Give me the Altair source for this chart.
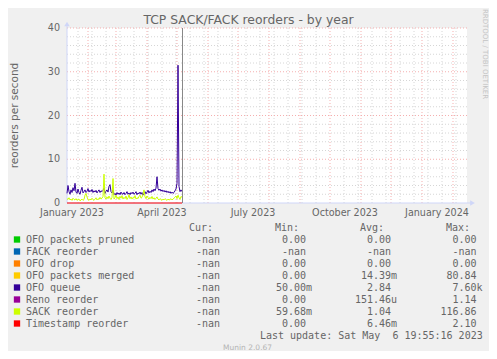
import altair as alt
import pandas as pd

# ---------------- data ----------------
START = "2023-01-11"          # first daily sample
ORIGIN = "2023-01-01"         # day 0 of the x scale

ofo_queue = [2.2, 4.0, 2.6, 2.0, 3.0, 2.4, 3.5, 2.8, 4.5, 2.5,
             2.2, 3.2, 2.4, 2.0, 2.9, 3.6, 2.3, 2.6, 3.0, 2.4,
             2.7, 3.3, 2.5, 2.9, 2.6, 3.1, 2.4, 2.8, 2.5, 2.9,
             2.3, 2.7, 3.0, 2.4, 2.8, 2.6, 2.9, 3.4, 2.2, 2.7,
             3.0, 2.5, 3.8, 4.2, 2.6, 2.3, 3.0, 1.9, 2.2, 1.8,
             2.4, 2.0, 2.3, 1.9, 2.5, 2.1, 2.0, 2.4, 1.9, 2.2,
             2.6, 2.0, 2.3, 1.9, 2.4, 2.1, 2.5, 2.0, 2.2, 2.6,
             1.9, 2.3, 2.1, 2.5, 2.0, 2.4, 1.8, 2.2, 2.6, 2.1,
             2.5, 2.9, 2.3, 2.7, 2.4, 3.0, 2.6, 3.2, 2.8, 3.4,
             6.0, 3.3, 2.9, 3.2, 2.7, 3.0, 2.6, 2.9, 2.5, 2.8,
             2.4, 2.7, 2.3, 2.6, 2.2, 2.5, 2.2, 2.4, 2.8, 3.2,
             4.5, 31.5, 3.8, 2.6, 3.0, 2.6]

sack_reorder = [1.0, 0.8, 1.2, 0.7, 0.9, 0.6, 1.1, 0.8, 0.7, 1.0,
                0.6, 0.8, 0.9, 0.5, 0.7, 0.9, 0.6, 0.8, 1.8, 2.2,
                1.4, 0.8, 0.6, 0.9, 0.7, 1.1, 0.8, 0.6, 0.9, 1.2,
                0.7, 1.0, 0.8, 1.3, 0.9, 1.1, 1.5, 6.6, 1.2, 0.9,
                1.4, 1.0, 1.6, 1.1, 0.8, 1.3, 5.6, 0.9, 1.2, 1.8,
                1.0, 1.4, 0.8, 1.5, 1.1, 1.7, 0.9, 1.3, 1.0, 1.6,
                0.8, 1.2, 1.9, 1.0, 1.4, 0.9, 1.3, 1.1, 1.7, 0.9,
                1.2, 1.0, 1.5, 1.8, 1.1, 1.3, 2.0, 3.0, 1.4, 1.0,
                1.6, 1.2, 0.9, 1.3, 1.0, 1.5, 0.9, 1.2, 0.8, 1.1,
                1.4, 0.9, 0.7, 1.0, 0.8, 0.6, 0.9, 0.7, 1.0, 0.8,
                0.6, 0.9, 0.7, 0.8, 1.0, 0.7, 0.9, 1.1, 1.3, 1.6,
                1.0, 1.8, 1.2, 0.8, 1.5, 1.3]

timestamp_dates = ["2023-01-11", "2023-05-06"]
timestamp_vals = [0.0, 0.0]

legend_names = ["OFO packets pruned", "FACK reorder", "OFO drop", "OFO packets merged",
                "OFO queue", "Reno reorder", "SACK reorder", "Timestamp reorder"]
legend_colors = ["#00CC00", "#0066B3", "#FF8000", "#FFCC00",
                 "#330099", "#990099", "#CCFF00", "#FF0000"]
cur_vals = ["-nan", "-nan", "-nan", "-nan", "-nan", "-nan", "-nan", "-nan"]
min_vals = ["0.00", "-nan", "0.00", "0.00", "50.00m", "0.00", "59.68m", "0.00"]
avg_vals = ["0.00", "-nan", "0.00", "14.39m", "2.84", "151.46u", "1.04", "6.46m"]
max_vals = ["0.00", "-nan", "0.00", "80.84", "7.60k", "1.14", "116.86", "2.10"]

y_ticks = [0, 10, 20, 30, 40]
x_labels = ["January 2023", "April 2023", "July 2023", "October 2023", "January 2024"]
x_label_dates = ["2023-01-01", "2023-04-01", "2023-07-01", "2023-10-01", "2024-01-01"]

TITLE = "TCP SACK/FACK reorders - by year"
Y_TITLE = "reorders per second"
LAST_UPDATE = "Last update: Sat May \u00a06 19:55:16 2023"
FOOT = "Munin 2.0.67"
WATERMARK = "RRDTOOL / TOBI OETIKER"

# ---------------- helpers ----------------
origin = pd.Timestamp(ORIGIN)
def dayno(ts):
    return (pd.Timestamp(ts) - origin) / pd.Timedelta(days=1)

start_day = dayno(START)
days = [start_day + i for i in range(len(ofo_queue))]
series = pd.DataFrame({"day": days, "ofo": ofo_queue, "sack": sack_reorder})
ts_df = pd.DataFrame({"day": [dayno(d) for d in timestamp_dates], "v": timestamp_vals})

W, H = 400, 175
xs = alt.Scale(domain=[10, 410], nice=False, zero=False)
ys = alt.Scale(domain=[0, 40], nice=False, zero=False)
FONT = "DejaVu Sans"
MONO = "DejaVu Sans Mono"
TXT = "#666666"
AXIS = "#CFD6F8"
MINOR = "#d6d6d6"
MAJOR = "#F5AFAF"

# grid positions
minor_h = [v for v in range(2, 40, 2) if v % 10]
major_h = [10, 20, 30, 40]
month_days = [dayno(d) for d in pd.date_range("2023-02-01", "2024-02-01", freq="MS")]
minor_v = [d for d in range(int(dayno("2023-01-22")), 410, 14) if d not in month_days]

X = lambda f: alt.X(f, scale=xs, axis=None)
Y = lambda f: alt.Y(f, scale=ys, axis=None)

layers = []
layers.append(alt.Chart(pd.DataFrame({"v": minor_h})).mark_rule(
    color=MINOR, strokeDash=[1, 2], strokeWidth=1).encode(
    y=Y("v:Q"), x=alt.value(0), x2=alt.value(W)))
layers.append(alt.Chart(pd.DataFrame({"d": minor_v})).mark_rule(
    color=MINOR, strokeDash=[1, 2], strokeWidth=1).encode(
    x=X("d:Q"), y=alt.value(0), y2=alt.value(H)))
layers.append(alt.Chart(pd.DataFrame({"v": major_h})).mark_rule(
    color=MAJOR, strokeDash=[1, 2], strokeWidth=1).encode(
    y=Y("v:Q"), x=alt.value(0), x2=alt.value(W)))
layers.append(alt.Chart(pd.DataFrame({"d": month_days})).mark_rule(
    color=MAJOR, strokeDash=[1, 2], strokeWidth=1).encode(
    x=X("d:Q"), y=alt.value(0), y2=alt.value(H)))

# axes lines + arrows
layers.append(alt.Chart(pd.DataFrame({"a": [0]})).mark_rule(color=AXIS, strokeWidth=1).encode(
    x=alt.value(0), y=alt.value(-2), y2=alt.value(H)))
layers.append(alt.Chart(pd.DataFrame({"a": [0]})).mark_rule(color=AXIS, strokeWidth=1).encode(
    x=alt.value(0), x2=alt.value(W + 4), y=alt.value(H)))
layers.append(alt.Chart(pd.DataFrame({"a": [0]})).mark_point(
    shape="triangle-up", filled=True, size=30, opacity=1, color=AXIS).encode(
    x=alt.value(0), y=alt.value(-4)))
layers.append(alt.Chart(pd.DataFrame({"a": [0]})).mark_point(
    shape="triangle-right", filled=True, size=30, opacity=1, color=AXIS).encode(
    x=alt.value(W + 5.5), y=alt.value(H)))

# data lines (Munin drawing order)
layers.append(alt.Chart(series).mark_line(color="#330099", strokeWidth=1).encode(
    x=X("day:Q"), y=Y("ofo:Q")))
layers.append(alt.Chart(series).mark_line(color="#CCFF00", strokeWidth=1).encode(
    x=X("day:Q"), y=Y("sack:Q")))
layers.append(alt.Chart(ts_df).mark_line(color="#FF0000", strokeWidth=1).encode(
    x=X("day:Q"), y=Y("v:Q")))

# last-update vertical rule
layers.append(alt.Chart(pd.DataFrame({"d": [dayno("2023-05-06 12:00")]})).mark_rule(
    color="#888888", strokeWidth=1).encode(x=X("d:Q"), y=alt.value(0), y2=alt.value(H)))

# axis labels
layers.append(alt.Chart(pd.DataFrame({"v": y_ticks})).mark_text(
    align="right", baseline="middle", font=FONT, fontSize=9.6, color=TXT).encode(
    y=Y("v:Q"), x=alt.value(-7), text="v:Q"))
layers.append(alt.Chart(pd.DataFrame({"lab": x_labels,
                                      "d": [dayno(d) + 15 for d in x_label_dates]})).mark_text(
    align="center", baseline="middle", font=FONT, fontSize=9.6, color=TXT).encode(
    x=X("d:Q"), y=alt.value(185), text="lab:N"))

# titles & decorations
def free_text(txt, x, y, **kw):
    return alt.Chart(pd.DataFrame({"t": [txt]})).mark_text(**kw).encode(
        x=alt.value(x), y=alt.value(y), text="t:N")

layers.append(free_text(TITLE, 181.5, -4, align="center", baseline="alphabetic",
                        font=FONT, fontSize=12.4, color=TXT))
layers.append(free_text(Y_TITLE, -52.5, 87.5, align="center", baseline="middle",
                        font=FONT, fontSize=10.5, color=TXT, angle=270))
layers.append(free_text(WATERMARK, 418.3, 26, align="center", baseline="middle",
                        font=FONT, fontSize=7, color="#C4C4C4", angle=90))
layers.append(free_text(FOOT, 156, 320, align="left", baseline="middle",
                        font=FONT, fontSize=7.5, color="#B4B4B4"))
layers.append(free_text(LAST_UPDATE, 415.7, 307.5, align="right", baseline="middle",
                        font=MONO, fontSize=10, color=TXT))

# legend table
def split(s):
    if s and s[-1] in "mukMG":
        return s[:-1], s[-1]
    return s, ""

leg = pd.DataFrame({
    "name": legend_names, "color": legend_colors, "cur": cur_vals,
    "min_n": [split(s)[0] for s in min_vals], "min_s": [split(s)[1] for s in min_vals],
    "avg_n": [split(s)[0] for s in avg_vals], "avg_s": [split(s)[1] for s in avg_vals],
    "max_n": [split(s)[0] for s in max_vals], "max_s": [split(s)[1] for s in max_vals],
    "py": [211.5 + 12 * k for k in range(len(legend_names))],
})
PY = alt.Y("py:Q", scale=None, axis=None)

layers.append(alt.Chart(leg).mark_square(size=40, filled=True, opacity=1).encode(
    x=alt.value(-50), y=PY, color=alt.Color("color:N", scale=None, legend=None)))

def col(field, x, align):
    return alt.Chart(leg).mark_text(align=align, baseline="middle", font=MONO,
                                    fontSize=10, color=TXT).encode(
        x=alt.value(x), y=PY, text=f"{field}:N")

layers += [col("name", -41, "left"), col("cur", 153, "right"),
           col("min_n", 239, "right"), col("min_s", 239, "left"),
           col("avg_n", 324, "right"), col("avg_s", 324, "left"),
           col("max_n", 409.5, "right"), col("max_s", 409.5, "left")]

for head, x in [("Cur:", 146), ("Min:", 232), ("Avg:", 317), ("Max:", 403)]:
    layers.append(free_text(head, x, 199.5, align="right", baseline="middle",
                            font=MONO, fontSize=10, color=TXT))

chart = alt.layer(*layers).properties(
    width=W, height=H,
    padding={"left": 59, "top": 20, "right": 22, "bottom": 148},
    autosize=alt.AutoSizeParams(type="none"),
    background="#F0F0F0",
).configure_view(fill="#FFFFFF", stroke=None)

chart.save("out.html", embed_options={"renderer": "svg", "actions": False})
